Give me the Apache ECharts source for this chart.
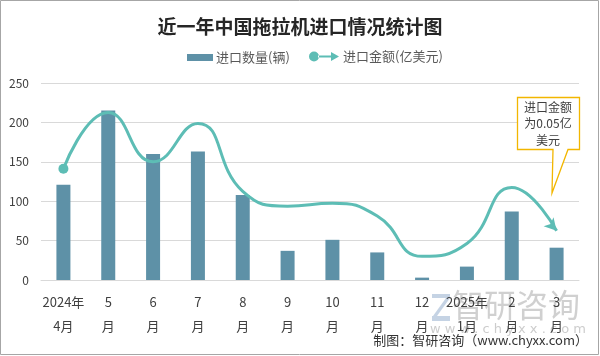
<!DOCTYPE html>
<html><head><meta charset="utf-8">
<script src="https://cdn.jsdelivr.net/npm/echarts@6/dist/echarts.min.js"></script>
<style>html,body{margin:0;padding:0;background:#fff}#c{width:600px;height:356px}</style>
</head><body><div id="c"></div>
<script>
const categories = ['2024年\n4月','5\n月','6\n月','7\n月','8\n月','9\n月','10\n月','11\n月','12\n月','2025年\n1月','2\n月','3\n月'];
const quantity = [121, 215, 160, 163, 108, 37, 51, 35, 3, 17, 87, 41];
const amount = [0.113, 0.170, 0.120, 0.159, 0.090, 0.075, 0.078, 0.065, 0.024, 0.037, 0.094, 0.05];
const yTicks = [0, 50, 100, 150, 200, 250];

const FONT = '"Noto Sans CJK SC", "Microsoft YaHei", sans-serif';
const BAR = '#5e91a7';
const LINE = '#5dbdb5';

const lineData = amount.map((v, i) => {
  if (i === 0) return {value: v, symbol: 'circle', symbolSize: 10};
  if (i === amount.length - 1) return {value: v, symbol: 'arrow', symbolSize: [10, 12], symbolRotate: -138};
  return {value: v, symbol: 'none', symbolSize: 0};
});

const chart = echarts.init(document.getElementById('c'), null, {renderer: 'canvas'});
chart.setOption({
  animation: false,
  textStyle: {fontFamily: FONT},
  title: {
    text: '近一年中国拖拉机进口情况统计图',
    left: 'center', top: 12,
    textStyle: {fontSize: 19, fontWeight: 'bold', color: '#262626', fontFamily: FONT}
  },
  legend: [{
    data: ['进口数量(辆)'],
    left: 182, top: 46,
    icon: 'rect', itemWidth: 26, itemHeight: 7, itemGap: 4,
    textStyle: {fontSize: 13, color: '#595959', fontFamily: FONT, padding: [0, 0, 0, -2]}
  }, {
    data: [{name: '进口金额(亿美元)', icon: 'path://M0,5a5,5 0 1,0 10,0a5,5 0 1,0 -10,0Z M9,4 H23 V6 H9Z M22,0.5 L30,5 L22,9.5Z'}],
    left: 304, top: 45,
    itemWidth: 30, itemHeight: 10, itemGap: 4,
    textStyle: {fontSize: 13, color: '#595959', fontFamily: FONT, padding: [0, 0, 0, -1]}
  }],
  grid: {left: 41, right: 21, top: 83, bottom: 76, containLabel: false},
  xAxis: {
    type: 'category',
    data: categories,
    axisLine: {show: true, lineStyle: {color: '#d9d9d9'}},
    axisTick: {show: false},
    axisLabel: {fontSize: 13, color: '#404040', lineHeight: 24, margin: 10, interval: 0, fontFamily: FONT}
  },
  yAxis: [{
    type: 'value', min: yTicks[0], max: yTicks[yTicks.length - 1], interval: 50,
    axisLine: {show: false}, axisTick: {show: false},
    splitLine: {lineStyle: {color: '#d9d9d9'}},
    axisLabel: {fontSize: 12, color: '#404040', margin: 12, fontFamily: FONT}
  }, {
    type: 'value', min: 0, max: 0.2, show: false, splitLine: {show: false}
  }],
  series: [{
    name: '进口数量(辆)', type: 'bar', data: quantity, barWidth: 14,
    itemStyle: {color: BAR}
  }, {
    name: '进口金额(亿美元)', type: 'line', yAxisIndex: 1, data: lineData,
    smooth: 0.5, showSymbol: true,
    lineStyle: {width: 3, color: LINE}, itemStyle: {color: LINE}, z: 3
  }],
  graphic: [
    {type: 'rect', shape: {x: 0.5, y: 0.5, width: 598, height: 354}, style: {fill: 'none', stroke: '#a6a6a6', lineWidth: 1}, silent: true, z: 100},
    {type: 'polygon', shape: {points: [[517.5,97.5],[579.5,97.5],[579.5,149.5],[568,149.5],[552,193],[553,149.5],[517.5,149.5]]},
     style: {fill: '#fff', stroke: '#f2b600', lineWidth: 1.3}, z: 50},
    {type: 'text', x: 548, y: 99, z: 51, style: {text: '进口金额\n为0.05亿\n美元', fontSize: 12, lineHeight: 16.5, fill: '#404040', align: 'center', fontFamily: FONT}},
    // watermark
    {type: 'group', z: 40, silent: true, children: [
      {type: 'rect', shape: {x: 432, y: 294, width: 18, height: 4}, style: {fill: 'rgba(150,175,205,0.55)'}},
      {type: 'polygon', shape: {points: [[446,298],[450,298],[437,316],[433,316]]}, style: {fill: 'rgba(150,175,205,0.55)'}},
      {type: 'rect', shape: {x: 432, y: 316, width: 18, height: 5}, style: {fill: 'rgba(150,175,205,0.55)'}},
      {type: 'text', x: 452, y: 289, style: {text: '智研咨询', fontSize: 32, fill: 'rgba(170,170,170,0.55)', fontFamily: FONT}},
      {type: 'text', x: 430, y: 323, style: {text: 'w w w . c h y x x . c o m', fontSize: 13, fill: 'rgba(170,170,170,0.6)', fontFamily: 'DejaVu Sans, sans-serif'}}
    ]},
    {type: 'text', right: 12, top: 334, z: 60, style: {text: '制图：智研咨询（www.chyxx.com）', fontSize: 13, fill: '#333', fontFamily: FONT}}
  ]
});
</script></body></html>
